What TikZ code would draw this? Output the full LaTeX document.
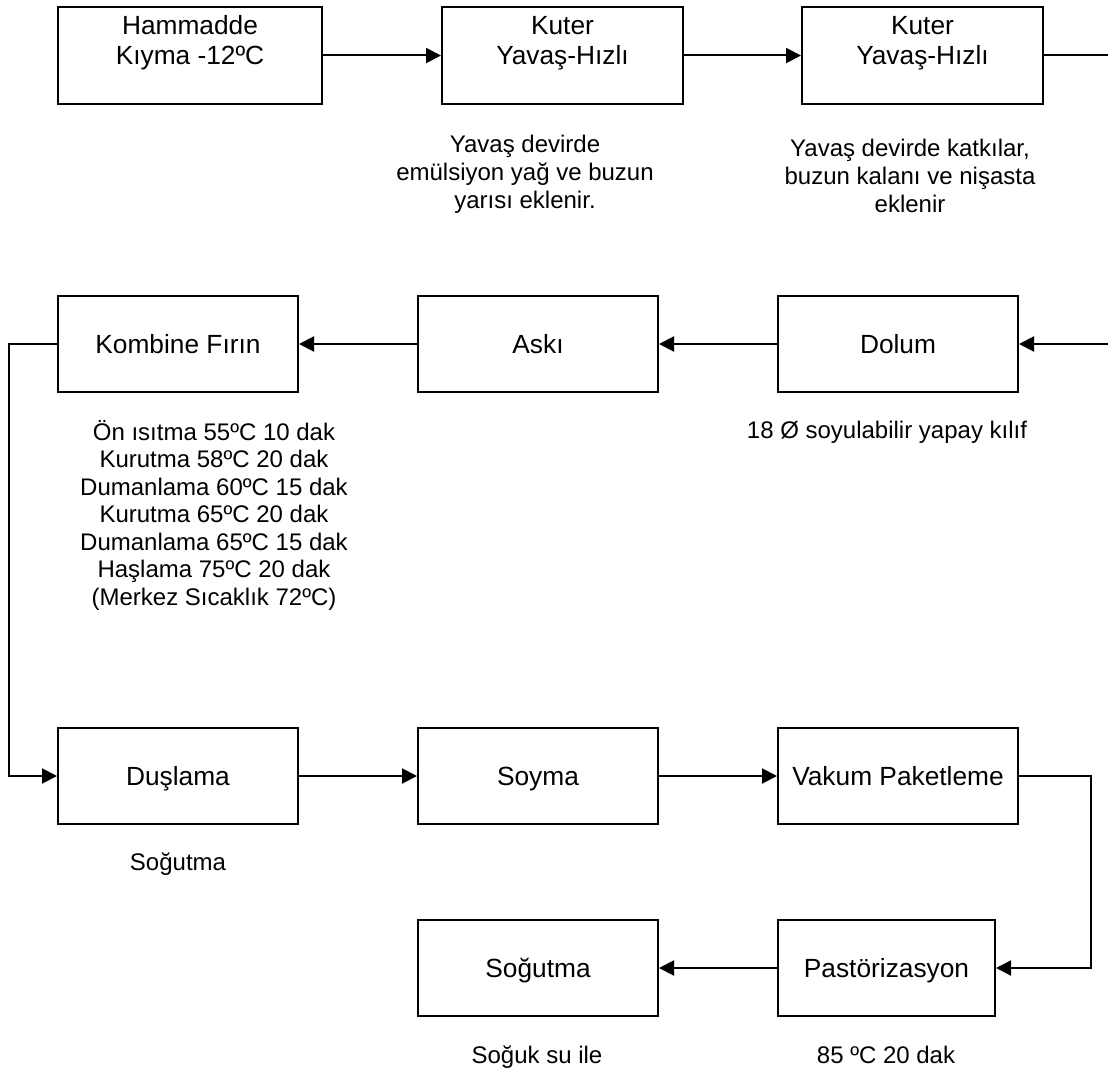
\documentclass[tikz,border=0pt]{standalone}
\usepackage{fontspec}
\setmainfont{Liberation Sans}
\usetikzlibrary{arrows.meta}
\newcommand\bxfont{\fontsize{26.3}{30}\selectfont}
\newcommand\lbfont{\fontsize{24}{28}\selectfont}
\newcommand\lbkfont{\fontsize{24}{27.5}\selectfont}
\newcommand\bs{\rule[-6pt]{0pt}{30pt}}
\begin{document}
\begin{tikzpicture}[x=1pt,y=-1pt,
  box/.style={draw, line width=2pt, inner sep=0pt, font=\bxfont, align=center, minimum height=96pt},
  lbl/.style={inner sep=0pt, font=\lbfont, align=center},
  conn/.style={line width=2pt},
  arr/.style={line width=2pt, -{Triangle[length=15pt,width=15pt]}}]
\useasboundingbox (0,0) rectangle (1108,1070);
% row 1
\node[box, minimum width=264pt, minimum height=97pt] (b1) at (190,55.5) {\bs Hammadde\\\bs Kıyma -12ºC\\\bs};
\node[box, minimum width=241pt, minimum height=97pt] (b2) at (562.5,55.5) {\bs Kuter\\\bs Yavaş-Hızlı\\\bs};
\node[box, minimum width=241pt, minimum height=97pt] (b3) at (922.5,55.5) {\bs Kuter\\\bs Yavaş-Hızlı\\\bs};
\coordinate (r1) at (1108,55.5);
\node[lbl] (l2) at (525,174.5) {\strut Yavaş devirde\\\strut emülsiyon yağ ve buzun\\\strut yarısı eklenir.};
\node[lbl] (l3) at (910,179) {\strut Yavaş devirde katkılar,\\\strut buzun kalanı ve nişasta\\\strut eklenir};
% row 2
\node[box, minimum width=240pt] (komb) at (178,344) {\bs Kombine Fırın};
\node[box, minimum width=240pt] (aski) at (538,344) {\bs Askı};
\node[box, minimum width=240pt] (dolum) at (898,344) {\bs Dolum};
\coordinate (r2) at (1108,344);
\node[lbl] (ldol) at (887,433) {\strut 18 Ø soyulabilir yapay kılıf};
\node[lbl, font=\lbkfont] (lkomb) at (214,517) {\strut Ön ısıtma 55ºC 10 dak\\\strut Kurutma 58ºC 20 dak\\\strut Dumanlama 60ºC 15 dak\\\strut Kurutma 65ºC 20 dak\\\strut Dumanlama 65ºC 15 dak\\\strut Haşlama 75ºC 20 dak\\\strut (Merkez Sıcaklık 72ºC)};
% row 3
\node[box, minimum width=240pt] (dus) at (178,776) {\bs Duşlama};
\node[box, minimum width=240pt] (soy) at (538,776) {\bs Soyma};
\node[box, minimum width=240pt] (vak) at (898,776) {\bs Vakum Paketleme};
\node[lbl] (ldus) at (178,865) {\strut Soğutma};
% row 4
\node[box, minimum width=240pt] (sog) at (538,968) {\bs Soğutma};
\node[box, minimum width=217pt] (past) at (886.5,968) {\bs Pastörizasyon};
\node[lbl] (lsog) at (537,1058) {\strut Soğuk su ile};
\node[lbl] (lpast) at (886,1058) {\strut 85 ºC 20 dak};
% connectors
\draw[arr] (b1.east) -- (b2.west);
\draw[arr] (b2.east) -- (b3.west);
\draw[conn] (b3.east) -- (r1);
\draw[arr] (r2) -- (dolum.east);
\draw[arr] (dolum.west) -- (aski.east);
\draw[arr] (aski.west) -- (komb.east);
\draw[arr] (komb.west) -- ++(-48,0) |- (dus.west);
\draw[arr] (dus.east) -- (soy.west);
\draw[arr] (soy.east) -- (vak.west);
\draw[arr] (vak.east) -- ++(72,0) |- (past.east);
\draw[arr] (past.west) -- (sog.east);
\end{tikzpicture}
\end{document}
